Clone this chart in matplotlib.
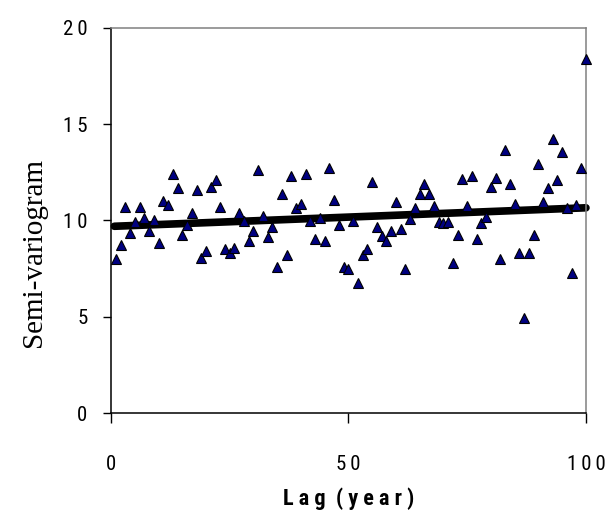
import matplotlib
matplotlib.use("Agg")
import matplotlib.pyplot as plt
from matplotlib import font_manager
import numpy as np

# semi-variogram values, lag 1..100
lags = np.arange(1, 101)
gamma = [
    7.98, 8.73, 10.72, 9.33, 9.90, 10.72, 10.11, 9.45, 10.03, 8.81,
    11.03, 10.80, 12.42, 11.67, 9.25, 9.75, 10.40, 11.57, 8.07, 8.42,
    11.76, 12.10, 10.72, 8.50, 8.30, 8.55, 10.40, 9.99, 8.93, 9.47,
    12.62, 10.23, 9.16, 9.68, 7.60, 11.36, 8.21, 12.31, 10.63, 10.86,
    12.42, 9.99, 9.06, 10.11, 8.95, 12.71, 11.06, 9.77, 7.57, 7.48,
    9.97, 6.74, 8.21, 8.52, 12.02, 9.68, 9.19, 8.93, 9.47, 10.94,
    9.58, 7.46, 10.08, 10.67, 11.36, 11.90, 11.36, 10.75, 9.94, 9.85,
    9.94, 7.78, 9.25, 12.17, 10.77, 12.31, 9.04, 9.89, 10.17, 11.76,
    12.19, 8.00, 13.66, 11.88, 10.84, 8.30, 4.92, 8.30, 9.25, 12.94,
    10.94, 11.67, 14.22, 12.09, 13.56, 10.63, 7.26, 10.80, 12.74, 18.39,
]

# fitted trend (end points)
trend_lag = [0.7, 100]
trend_val = [9.70, 10.66]

ts = "\u2009"  # thin space, the labels are letter-spaced
yticks = [0, 5, 10, 15, 20]
ytick_labels = ["0", "5", "1" + ts + "0", "1" + ts + "5", "2" + ts + "0"]
xticks = [0, 50, 100]
xtick_labels = ["0", "5" + ts + "0", "1" + ts + "0" + ts + "0"]

# look for a condensed face, else fall back to the plain one
names = {f.name for f in font_manager.fontManager.ttflist}
narrow_name = None
for n in ["Liberation Sans Narrow", "DejaVu Sans Condensed", "Roboto Condensed",
          "Open Sans Condensed"]:
    if n in names:
        narrow_name = n
        break
if narrow_name:
    tick_font = dict(family=[narrow_name, "DejaVu Sans"])
else:
    tick_font = dict(family=["DejaVu Sans"], stretch="condensed")

fig = plt.figure(figsize=(6.05, 5.31), dpi=100)
ax = fig.add_axes([0.1835, 0.2222, 0.785, 0.7251])

ax.plot(trend_lag, trend_val, color="black", lw=5.5, solid_capstyle="round",
        zorder=2, clip_on=False)
ax.plot(lags, gamma, linestyle="none", marker="^", ms=7, mfc="#000080",
        mec="black", mew=0.8, zorder=3, clip_on=False)

ax.set_xlim(0, 100)
ax.set_ylim(0, 20)
ax.set_xticks(xticks)
ax.set_xticklabels(xtick_labels, fontsize=15, **tick_font)
ax.set_yticks(yticks)
ax.set_yticklabels(ytick_labels, fontsize=15, **tick_font)
ax.tick_params(axis="x", direction="out", length=7, width=1, pad=23)
ax.tick_params(axis="y", direction="out", length=6, width=1, pad=11)

for s in ["left", "bottom"]:
    ax.spines[s].set_color("black")
    ax.spines[s].set_linewidth(1.1)
for s in ["top", "right"]:
    ax.spines[s].set_color("#808080")
    ax.spines[s].set_linewidth(1.1)

ax.set_ylabel("Semi-variogram", family=["Liberation Serif", "DejaVu Serif"],
              fontsize=21)
ax.yaxis.set_label_coords(-0.135, 0.418)
ax.set_xlabel("L a g  ( y e a r )", fontsize=16, fontweight="bold",
              labelpad=10, **tick_font)

fig.savefig("out.png", dpi=100)
